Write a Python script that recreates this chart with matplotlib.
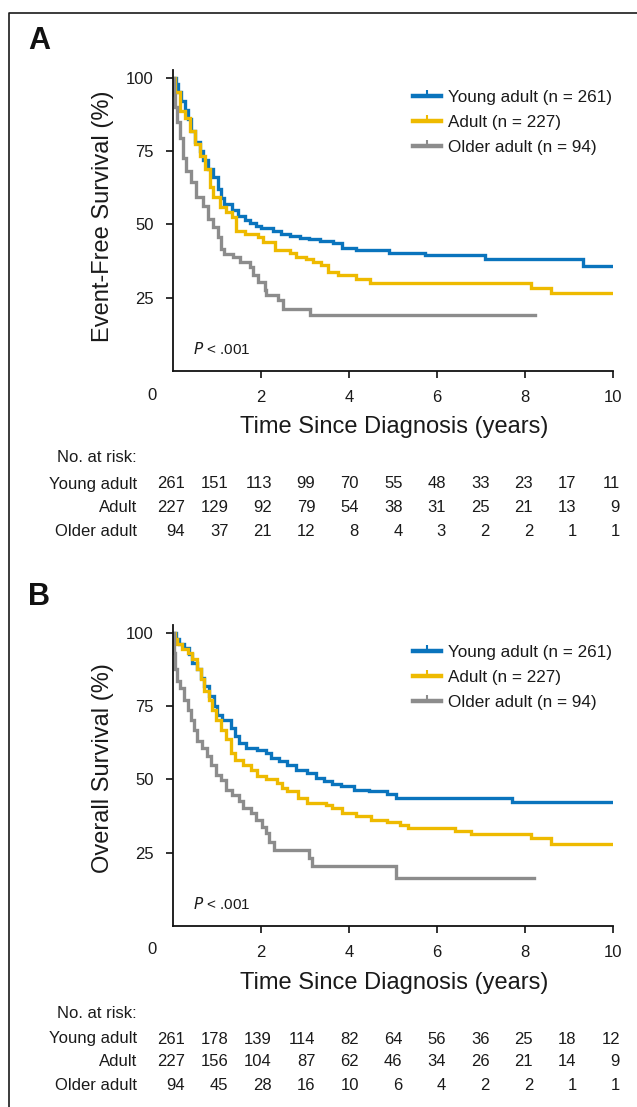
import matplotlib
matplotlib.use("Agg")
import matplotlib.pyplot as plt
from matplotlib.lines import Line2D
from matplotlib.transforms import blended_transform_factory

plt.rcParams['font.family'] = ['Liberation Sans', 'DejaVu Sans']

W, H = 637, 1107

groups = ["Young adult", "Adult", "Older adult"]
group_n = [261, 227, 94]
colors = ["#0A74BD", "#EEBA00", "#8C8C8C"]

# Panel A: event-free survival (step points)
efs_young_t = [0, 0.06, 0.11, 0.19, 0.27, 0.34, 0.42, 0.49, 0.61, 0.68, 0.80, 0.91, 1.02, 1.10, 1.17, 1.33, 1.48, 1.63, 1.74, 1.89, 2.00, 2.27, 2.46, 2.65, 2.88, 3.10, 3.33, 3.64, 3.83, 4.17, 4.92, 5.72, 7.08, 9.32, 10.0]
efs_young_s = [100, 98, 95, 92, 89, 86, 82, 78, 75, 72, 69, 66, 62, 59, 57, 55, 53, 51.5, 50.5, 49.5, 48.7, 47.8, 46.8, 46.2, 45.5, 45.0, 44.4, 43.6, 41.9, 41.2, 40.3, 39.5, 38.2, 35.8, 35.8]
efs_adult_t = [0, 0.04, 0.15, 0.27, 0.38, 0.49, 0.61, 0.72, 0.83, 0.91, 1.06, 1.21, 1.33, 1.44, 1.63, 1.93, 2.05, 2.31, 2.65, 2.80, 3.03, 3.18, 3.37, 3.52, 3.75, 4.17, 4.47, 8.14, 8.60, 10.0]
efs_adult_s = [100, 95, 88.7, 86.4, 81.9, 77.3, 73.4, 68.8, 62.6, 59.2, 55.8, 54.1, 52.4, 47.9, 46.7, 45.6, 43.9, 41.1, 40.2, 38.8, 38.3, 37.1, 36.3, 33.7, 32.6, 31.5, 30.0, 28.3, 26.6, 26.6]
efs_older_t = [0, 0.015, 0.04, 0.08, 0.15, 0.23, 0.30, 0.42, 0.53, 0.68, 0.80, 0.91, 1.02, 1.10, 1.17, 1.36, 1.52, 1.74, 1.82, 1.93, 2.08, 2.12, 2.39, 2.50, 3.11, 8.22]
efs_older_s = [100, 94, 90, 85, 79.6, 72.8, 68.3, 64.3, 59.2, 56.4, 51.9, 49, 45.6, 41.7, 40, 38.8, 37.1, 35.4, 32.6, 30.3, 27.5, 25.8, 24.1, 21.3, 19.0, 19.0]

# Panel B: overall survival
os_young_t = [0, 0.06, 0.14, 0.25, 0.36, 0.44, 0.55, 0.63, 0.70, 0.82, 0.93, 1.01, 1.12, 1.31, 1.42, 1.50, 1.65, 1.92, 2.11, 2.22, 2.41, 2.60, 2.79, 3.05, 3.24, 3.43, 3.62, 3.81, 4.11, 4.45, 4.87, 5.06, 7.71, 10.0]
os_young_s = [100, 97.7, 96, 94.9, 92.6, 89.7, 87.5, 84.6, 81.8, 78.4, 74.9, 72.1, 70.4, 67.5, 64.7, 62.4, 60.7, 59.9, 59.0, 57.3, 56.2, 55.0, 53.3, 52.2, 50.5, 49.3, 48.5, 47.6, 46.5, 45.9, 45.1, 43.8, 42.3, 42.3]
os_adult_t = [0, 0.04, 0.10, 0.21, 0.33, 0.44, 0.55, 0.63, 0.70, 0.82, 0.89, 0.97, 1.08, 1.20, 1.31, 1.42, 1.58, 1.77, 1.92, 2.11, 2.37, 2.48, 2.60, 2.83, 3.05, 3.47, 3.62, 3.85, 4.15, 4.49, 4.87, 5.17, 5.33, 6.42, 6.77, 8.13, 8.58, 10.0]
os_adult_s = [100, 97.7, 96, 94.3, 93.2, 90.9, 87.5, 84.1, 80.1, 77.2, 73.8, 70.4, 67, 63.6, 59, 56.7, 55, 53.3, 51, 50.1, 48.7, 47, 45.9, 43.6, 42.1, 41.3, 40.2, 38.5, 37.4, 36.2, 35.6, 34.5, 33.4, 32.5, 31.4, 30.0, 27.9, 27.9]
os_older_t = [0, 0.02, 0.05, 0.08, 0.17, 0.25, 0.33, 0.40, 0.48, 0.55, 0.67, 0.78, 0.86, 0.97, 1.08, 1.20, 1.35, 1.50, 1.58, 1.77, 1.88, 2.03, 2.11, 2.18, 2.30, 3.09, 3.17, 5.06, 8.20]
os_older_s = [100, 93, 87.5, 83.5, 81.2, 77.2, 73.8, 70.4, 67, 63, 60.7, 57.9, 55, 51.6, 49.9, 46.5, 44.8, 42.5, 40.2, 38.5, 36.2, 33.9, 31.7, 28.8, 26.0, 23.1, 20.3, 16.3, 16.3]

# Numbers at risk, years 0..10
risk_years = list(range(11))
efs_risk_young = [261, 151, 113, 99, 70, 55, 48, 33, 23, 17, 11]
efs_risk_adult = [227, 129, 92, 79, 54, 38, 31, 25, 21, 13, 9]
efs_risk_older = [94, 37, 21, 12, 8, 4, 3, 2, 2, 1, 1]
os_risk_young = [261, 178, 139, 114, 82, 64, 56, 36, 25, 18, 12]
os_risk_adult = [227, 156, 104, 87, 62, 46, 34, 26, 21, 14, 9]
os_risk_older = [94, 45, 28, 16, 10, 6, 4, 2, 2, 1, 1]

x_ticks = [2, 4, 6, 8, 10]
y_ticks = [25, 50, 75, 100]

panels = [
    dict(letter="A", ylabel="Event-Free Survival (%)",
         curves=[(efs_young_t, efs_young_s), (efs_adult_t, efs_adult_s), (efs_older_t, efs_older_s)],
         risk=[efs_risk_young, efs_risk_adult, efs_risk_older],
         ax_bottom=371, letter_y=41, ylabel_y=216, xlabel_y=427, table_y=[458, 484, 508, 532]),
    dict(letter="B", ylabel="Overall Survival (%)",
         curves=[(os_young_t, os_young_s), (os_adult_t, os_adult_s), (os_older_t, os_older_s)],
         risk=[os_risk_young, os_risk_adult, os_risk_older],
         ax_bottom=926, letter_y=597, ylabel_y=768, xlabel_y=983, table_y=[1014, 1039, 1062, 1086]),
]

fig = plt.figure(figsize=(W / 100, H / 100), dpi=100)

def fx(px):
    return px / W

def fy(py):
    return 1 - py / H

# outer frame
fig.add_artist(Line2D([fx(8.5), fx(8.5), 1.0], [0.0, fy(12.5), fy(12.5)],
                      transform=fig.transFigure, color="#1a1a1a", lw=1.2))

ax_left, ax_w, ax_h = 173, 440, 300.6
for p in panels:
    ax = fig.add_axes([fx(ax_left), fy(p["ax_bottom"]), ax_w / W, ax_h / H])
    for (t, s), c, g, n in zip(p["curves"], colors, groups, group_n):
        ax.plot(t, s, drawstyle="steps-post", color=c, lw=2.4, solid_joinstyle="miter")
    ax.set_xlim(0, 10)
    ax.set_ylim(0, 102.5)
    ax.set_xticks(x_ticks)
    ax.set_xticklabels([str(v) for v in x_ticks])
    ax.set_yticks(y_ticks)
    ax.set_yticklabels([str(v) for v in y_ticks])
    ax.spines["top"].set_visible(False)
    ax.spines["right"].set_visible(False)
    for sp in ["left", "bottom"]:
        ax.spines[sp].set_linewidth(1.3)
        ax.spines[sp].set_color("#111111")
    ax.tick_params(axis="both", direction="out", length=5, width=1.2, color="#111111",
                   labelsize=12, labelcolor="#1a1a1a")
    ax.tick_params(axis="x", pad=9)
    ax.tick_params(axis="y", pad=9)
    ax.text(0.045, 0.045, r"$\it{P}$ < .001", transform=ax.transAxes, fontsize=11,
            color="#1a1a1a", ha="left", va="bottom")
    handles = [Line2D([], [], color=c, lw=3.2, marker=2, markersize=4, markeredgewidth=1.5)
               for c in colors]
    labels = [f"{g} (n = {n})" for g, n in zip(groups, group_n)]
    ax.legend(handles, labels, loc="upper left", bbox_to_anchor=(fx(413), fy(p["ax_bottom"] - 281)),
              bbox_transform=fig.transFigure, frameon=False, fontsize=12.3, handlelength=1.65,
              handletextpad=0.4, labelspacing=0.58, borderpad=0, borderaxespad=0,
              numpoints=1, labelcolor="#1a1a1a")
    # corner zero
    fig.text(fx(152), fy(p["ax_bottom"] + 24), "0", fontsize=12, ha="center", va="center", color="#1a1a1a")
    fig.text(fx(28), fy(p["letter_y"]), p["letter"], fontsize=22, fontweight="bold",
             ha="left", va="center", color="#111111")
    fig.text(fx(103), fy(p["ylabel_y"]), p["ylabel"], rotation=90, fontsize=17,
             ha="center", va="center", color="#1a1a1a")
    fig.text(fx(394), fy(p["xlabel_y"]), "Time Since Diagnosis (years)", fontsize=17,
             ha="center", va="center", color="#1a1a1a")
    # numbers at risk table
    tr = blended_transform_factory(ax.transData, fig.transFigure)
    fig.text(fx(137), fy(p["table_y"][0]), "No. at risk:", fontsize=12, ha="right", va="center", color="#1a1a1a")
    for row_y, g, vals in zip(p["table_y"][1:], groups, p["risk"]):
        fig.text(fx(137), fy(row_y), g, fontsize=12, ha="right", va="center", color="#1a1a1a")
        for yr, v in zip(risk_years, vals):
            ax.text(yr + 0.27 - 0.011 * yr, fy(row_y), str(v), transform=tr, fontsize=12,
                    ha="right", va="center", color="#1a1a1a", clip_on=False)

fig.savefig("out.png", dpi=100)
